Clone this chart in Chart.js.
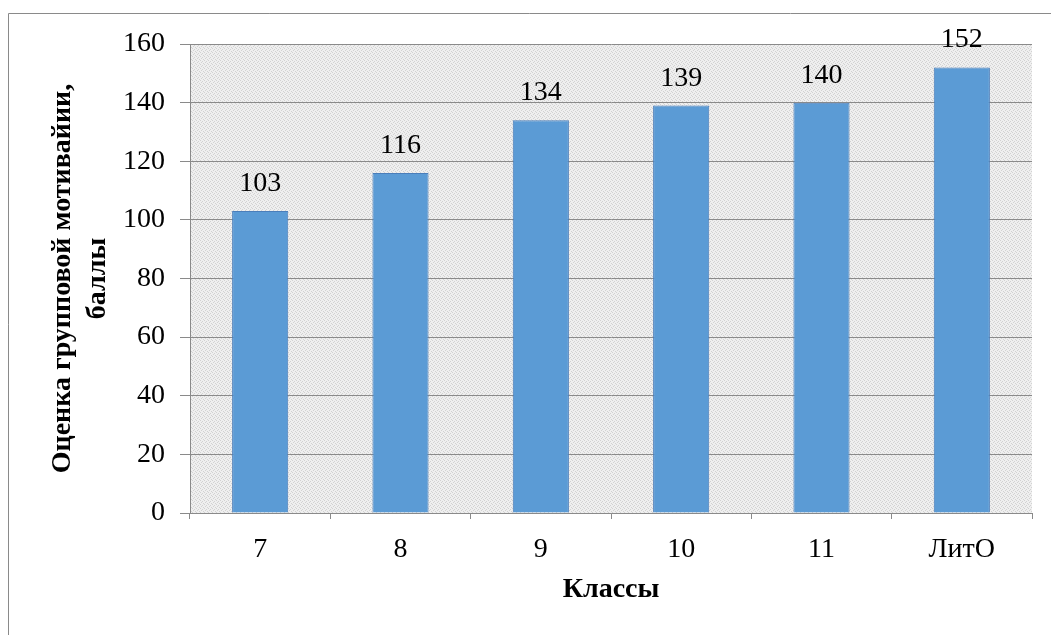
<!DOCTYPE html>
<html>
<head>
<meta charset="utf-8">
<script src="https://cdn.jsdelivr.net/npm/chart.js@4.4.1/dist/chart.umd.min.js"></script>
<style>
  html, body { margin: 0; padding: 0; background: #ffffff; }
  #wrap { position: relative; width: 1051px; height: 635px; }
</style>
</head>
<body>
<div id="wrap"><canvas id="c" width="1051" height="635"></canvas></div>
<script>
// Group motivation score by class
const classes = ['7', '8', '9', '10', '11', 'ЛитО'];
const scores = [103, 116, 134, 139, 140, 152];
const yTitleLines = ['Оценка групповой мотивайии,', 'баллы'];
const xTitle = 'Классы';
const yMin = 0, yMax = 160, yStep = 20;

const SERIF = '"Liberation Serif", "Times New Roman", serif';

// fine dotted fill for the plot area
function makePattern() {
  const p = document.createElement('canvas');
  p.width = 4; p.height = 4;
  const g = p.getContext('2d');
  g.fillStyle = '#efefef';
  g.fillRect(0, 0, 4, 4);
  g.fillStyle = '#d2d2d2';
  g.fillRect(0, 0, 1, 1);
  g.fillRect(2, 1, 1, 1);
  g.fillRect(1, 2, 1, 1);
  g.fillRect(3, 3, 1, 1);
  return g.createPattern(p, 'repeat');
}

const frameAndBackground = {
  id: 'frameAndBackground',
  beforeDraw(chart) {
    const { ctx, chartArea: a } = chart;
    ctx.save();
    ctx.strokeStyle = '#8a8a8a';
    ctx.lineWidth = 1;
    ctx.beginPath();
    ctx.moveTo(8.5, 635);
    ctx.lineTo(8.5, 13.5);
    ctx.lineTo(1051, 13.5);
    ctx.stroke();
    ctx.fillStyle = makePattern();
    ctx.fillRect(a.left, a.top, a.right - a.left, a.bottom - a.top);
    ctx.restore();
  }
};

const valueLabels = {
  id: 'valueLabels',
  afterDatasetsDraw(chart) {
    const { ctx } = chart;
    const meta = chart.getDatasetMeta(0);
    const data = chart.data.datasets[0].data;
    ctx.save();
    ctx.font = '28px ' + SERIF;
    ctx.fillStyle = '#000000';
    ctx.textAlign = 'center';
    ctx.textBaseline = 'alphabetic';
    meta.data.forEach((bar, i) => {
      ctx.fillText(String(data[i]), bar.x, bar.y - 20);
    });
    ctx.restore();
  }
};

new Chart(document.getElementById('c'), {
  type: 'bar',
  data: {
    labels: classes,
    datasets: [{
      data: scores,
      backgroundColor: '#5b9bd5',
      borderColor: '#4a7ebb',
      borderWidth: 1,
      categoryPercentage: 1.0,
      barPercentage: 0.4
    }]
  },
  options: {
    responsive: false,
    animation: false,
    events: [],
    layout: { padding: { left: 0, right: 19, top: 44, bottom: 0 } },
    plugins: {
      legend: { display: false },
      tooltip: { enabled: false }
    },
    scales: {
      x: {
        offset: true,
        grid: {
          offset: true,
          drawOnChartArea: false,
          drawTicks: true,
          tickLength: 6,
          color: '#8a8a8a',
          lineWidth: 1
        },
        border: { display: true, color: '#8a8a8a', width: 1 },
        ticks: {
          color: '#000000',
          font: { family: SERIF, size: 28 },
          padding: 14,
          maxRotation: 0
        },
        title: {
          display: true,
          text: xTitle,
          color: '#000000',
          font: { family: SERIF, size: 28, weight: 'bold' },
          padding: { top: 0, bottom: 28 }
        },
        afterFit(scale) { scale.height = 122; }
      },
      y: {
        min: yMin,
        max: yMax,
        ticks: {
          stepSize: yStep,
          color: '#000000',
          font: { family: SERIF, size: 28 },
          padding: 15
        },
        grid: {
          color: '#8a8a8a',
          lineWidth: 1,
          tickLength: 10
        },
        border: { display: true, color: '#8a8a8a', width: 1 },
        title: {
          display: true,
          text: yTitleLines,
          color: '#000000',
          font: { family: SERIF, size: 28, weight: 'bold', lineHeight: 1.25 },
          padding: { top: 45, bottom: 0 }
        },
        afterFit(scale) { scale.width = 190; }
      }
    }
  },
  plugins: [frameAndBackground, valueLabels]
});
</script>
</body>
</html>
